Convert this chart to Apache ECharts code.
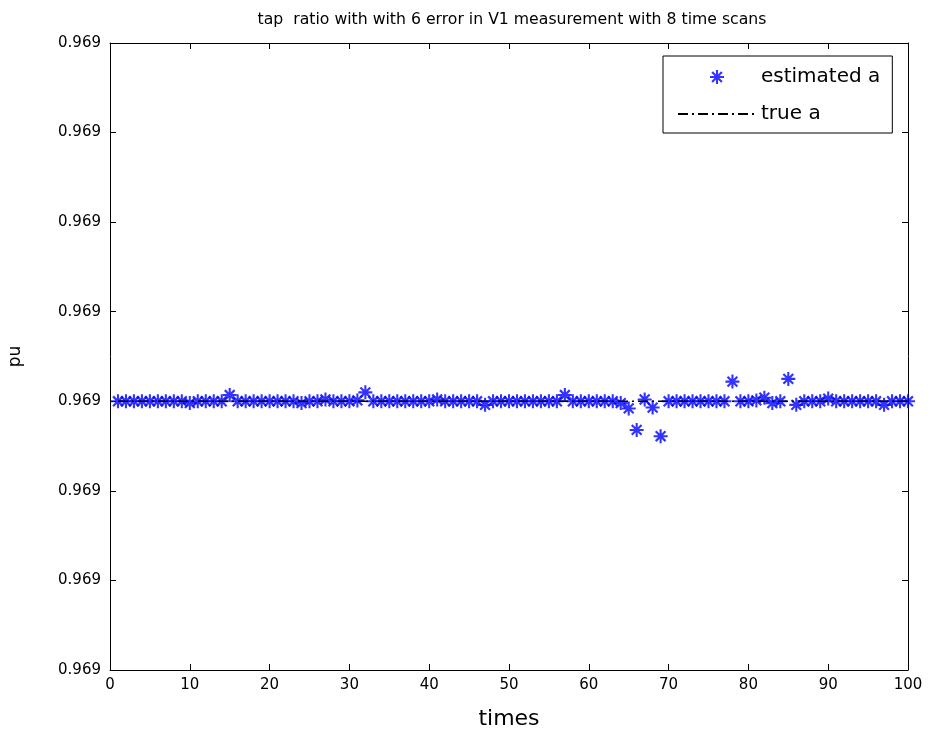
<!DOCTYPE html>
<html><head><meta charset="utf-8">
<script src="https://cdn.jsdelivr.net/npm/echarts@6/dist/echarts.min.js"></script>
<style>html,body{margin:0;padding:0;background:#fff}#c{width:931px;height:738px}</style>
</head><body><div id="c"></div>
<script>
const titleText = 'tap  ratio with with 6 error in V1 measurement with 8 time scans';
const times = [];
for (let i = 1; i <= 100; i++) times.push(i);
const trueA = 0.96899;
// estimated a values (pu); default equals true a
const estimatedA = [
 0.96899,0.96899,0.96899,0.96899,0.96899,0.96899,0.96899,0.96899,0.96899,0.9689898,
 0.96899,0.96899,0.96899,0.96899,0.9689907,0.96899,0.96899,0.96899,0.96899,0.96899,
 0.96899,0.96899,0.96899,0.9689898,0.96899,0.96899,0.9689902,0.96899,0.96899,0.96899,
 0.9689901,0.9689910,0.96899,0.96899,0.96899,0.96899,0.96899,0.96899,0.96899,0.96899,
 0.9689902,0.96899,0.96899,0.96899,0.96899,0.96899,0.9689896,0.96899,0.96899,0.96899,
 0.96899,0.96899,0.96899,0.96899,0.96899,0.96899,0.9689907,0.96899,0.96899,0.96899,
 0.96899,0.96899,0.96899,0.9689898,0.9689892,0.9689868,0.9689902,0.9689893,0.9689861,0.96899,
 0.96899,0.96899,0.96899,0.96899,0.96899,0.96899,0.96899,0.9689922,0.96899,0.96899,
 0.9689901,0.9689904,0.9689898,0.96899,0.9689925,0.9689896,0.96899,0.96899,0.96899,0.9689903,
 0.96899,0.96899,0.96899,0.96899,0.96899,0.96899,0.9689896,0.96899,0.96899,0.96899
];
const xTicks = [0,10,20,30,40,50,60,70,80,90,100];
const yMin = 0.96896, yMax = 0.96903, yStep = 0.00001;

const star = 'path://M8.5 0L11.5 0L11.5 20L8.5 20Z M0 8.5L20 8.5L20 11.5L0 11.5Z M1.9 4.1L4.1 1.9L18.1 15.9L15.9 18.1Z M15.9 1.9L18.1 4.1L4.1 18.1L1.9 15.9Z';
const FONT = 'DejaVu Sans';
const chart = echarts.init(document.getElementById('c'), null, {renderer: 'canvas'});
const axisCommon = {
  axisLine: {show: true, onZero: false, lineStyle: {color: '#000', width: 1}},
  axisTick: {show: true, inside: true, length: 6, lineStyle: {color: '#000'}},
  splitLine: {show: false}
};
chart.setOption({
  animation: false,
  backgroundColor: '#fff',
  textStyle: {fontFamily: FONT},
  title: {text: titleText, left: 507, textAlign: 'center', top: 7,
    textStyle: {fontFamily: FONT, fontSize: 15.7, fontWeight: 'normal', color: '#000'}},
  grid: {left: 110, right: 23, top: 43, bottom: 68, outerBoundsMode: 'none', containLabel: false},
  legend: {
    orient: 'vertical', left: 663, top: 56,
    padding: [11, 12, 9, 14], itemGap: 17, itemWidth: 78, itemHeight: 14, itemTextGap: 6,
    borderColor: '#000', borderWidth: 1, backgroundColor: '#fff',
    textStyle: {fontFamily: FONT, fontSize: 20, color: '#000'},
    data: [{name: 'estimated a'}, {name: 'true a', itemStyle: {opacity: 0}}]
  },
  xAxis: [
    Object.assign({type: 'value', min: 0, max: 100, interval: 10, position: 'bottom',
      name: 'times', nameLocation: 'middle', nameGap: 38,
      nameTextStyle: {fontFamily: FONT, fontSize: 22, color: '#000'},
      axisLabel: {color: '#000', fontFamily: FONT, fontSize: 15, margin: 8,
        formatter: v => xTicks.includes(v) ? String(v) : ''}}, axisCommon),
    Object.assign({type: 'value', min: 0, max: 100, interval: 10, position: 'top',
      axisLabel: {show: false}}, axisCommon)
  ],
  yAxis: [
    Object.assign({type: 'value', min: yMin, max: yMax, interval: yStep, position: 'left',
      name: 'pu', nameLocation: 'middle', nameGap: 86, nameRotate: 90,
      nameTextStyle: {fontFamily: FONT, fontSize: 17, color: '#000'},
      axisLabel: {color: '#000', fontFamily: FONT, fontSize: 15, margin: 9,
        formatter: v => v.toFixed(3)}}, axisCommon),
    Object.assign({type: 'value', min: yMin, max: yMax, interval: yStep, position: 'right',
      axisLabel: {show: false}}, axisCommon)
  ],
  series: [
    {name: 'estimated a', type: 'scatter', symbol: star, symbolSize: 14,
      itemStyle: {color: '#0000ff'},
      data: times.map((t, i) => [t, estimatedA[i]]), z: 2},
    {name: 'true a', type: 'line', symbol: 'none', z: 3,
      itemStyle: {color: '#000'},
      lineStyle: {color: '#000', width: 1.5, type: [10, 4, 2, 4]},
      data: times.map(t => [t, trueA])}
  ]
});
</script></body></html>
